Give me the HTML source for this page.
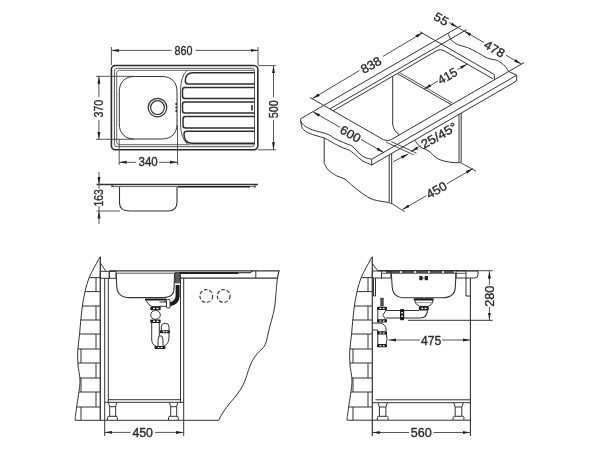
<!DOCTYPE html>
<html><head><meta charset="utf-8">
<style>
html,body{margin:0;padding:0;background:#fff;width:600px;height:450px;overflow:hidden}
svg{display:block;will-change:transform}
text{font-family:"Liberation Sans",sans-serif;fill:#2b2b2b;stroke:#2b2b2b;stroke-width:0.35}
</style></head><body>
<svg width="600" height="450" viewBox="0 0 600 450">
<defs>
<marker id="ah" viewBox="0 0 10 10" refX="10" refY="5" markerWidth="7.5" markerHeight="7.5" orient="auto-start-reverse" markerUnits="userSpaceOnUse">
<path d="M0,3 L10,5 L0,7 z" fill="#222"/>
</marker>
</defs>
<g fill="none" stroke="#333" stroke-width="1">

<!-- ============ TOP VIEW ============ -->
<g id="top">
<!-- outer -->
<rect x="111.4" y="65.5" width="146.4" height="84.3" rx="4" stroke-width="1.6" stroke="#2a2a2a"/>
<!-- inner 1 -->
<rect x="114.4" y="68.3" width="140.1" height="78.4" rx="3" stroke-width="1" stroke="#555"/>
<!-- inner 2 (left part) -->
<path d="M187.2,70.3 H119.5 Q116.7,70.3 116.7,73 V142 Q116.7,144.7 119.5,144.7 H188" stroke="#666"/>
<line x1="188" y1="144.7" x2="254.5" y2="144.7" stroke="#888"/>
<line x1="187.2" y1="70.3" x2="254.5" y2="70.3" stroke="#666"/>
<!-- drainboard boundary -->
<path d="M187.2,70.3 Q180.5,76 180.5,92 V124 Q180.5,138 188,144.7" stroke="#555"/>
<!-- bowl -->
<path d="M134.3,76.5 H162.0 C171.3,76.5 177.0,82.2 177.0,91.5 V124.0 C177.0,133.3 171.3,139.0 162.0,139.0 H134.3 C125.0,139.0 119.3,133.3 119.3,124.0 V91.5 C119.3,82.2 125.0,76.5 134.3,76.5 Z" stroke="#333"/>
<!-- drain -->
<circle cx="157.5" cy="107.6" r="9.3" stroke="#333" stroke-width="1.2"/>
<circle cx="157.5" cy="107.6" r="6.9" stroke="#333" stroke-width="1.2"/>
<!-- overflow slots -->
<path d="M176.2,103 V105 M176.2,106.5 V108.5 M176.2,110 V112" stroke="#222" stroke-width="1.4"/>
<!-- grooves -->
<g stroke="#2e2e2e" stroke-width="1.5">
<path d="M254.5,72.8 H193 Q185.3,72.8 185.3,81 Q185.3,83.9 188,83.9 H254.5"/>
<path d="M254.5,87.5 H185 Q182.5,87.5 182.5,90 V96 Q182.5,98.5 185,98.5 H254.5"/>
<path d="M254.5,102 H185 Q182.5,102 182.5,104.5 V110.5 Q182.5,113 185,113 H254.5"/>
<path d="M254.5,116.5 H185.5 Q183,116.5 183,119 V125.5 Q183,128 185.5,128 H254.5"/>
<path d="M254.5,131.3 H186.5 Q184,131.3 184,134 Q184,143.3 192,143.3 H254.5"/>
</g>
<!-- tap mark -->
<line x1="252" y1="105" x2="252" y2="110.5" stroke="#222" stroke-width="1.5"/>

<!-- dims -->
<g stroke="#444" stroke-width="0.9">
<line x1="111.4" y1="47" x2="111.4" y2="65"/>
<line x1="258" y1="47" x2="258" y2="65"/>
<line x1="111.4" y1="50.4" x2="171.5" y2="50.4" marker-start="url(#ah)"/>
<line x1="195.5" y1="50.4" x2="258" y2="50.4" marker-end="url(#ah)"/>
<!-- 500 -->
<line x1="258" y1="65.6" x2="276" y2="65.6"/>
<line x1="258" y1="149.8" x2="276" y2="149.8"/>
<line x1="273.5" y1="65.6" x2="273.5" y2="97" marker-start="url(#ah)"/>
<line x1="273.5" y1="120" x2="273.5" y2="149.8" marker-end="url(#ah)"/>
<!-- 370 -->
<line x1="96" y1="76.3" x2="134" y2="76.3"/>
<line x1="96" y1="139.3" x2="134" y2="139.3"/>
<line x1="98.9" y1="76.3" x2="98.9" y2="97" marker-start="url(#ah)"/>
<line x1="98.9" y1="120" x2="98.9" y2="139.3" marker-end="url(#ah)"/>
<!-- 340 -->
<line x1="119.2" y1="139" x2="119.2" y2="165"/>
<line x1="177.5" y1="125" x2="177.5" y2="165"/>
<line x1="119.2" y1="162.3" x2="136" y2="162.3" marker-start="url(#ah)"/>
<line x1="159" y1="162.3" x2="177.5" y2="162.3" marker-end="url(#ah)"/>
</g>
</g>

<!-- ============ SIDE VIEW ============ -->
<g id="side">
<line x1="96.5" y1="184.5" x2="258" y2="184.5" stroke="#333" stroke-width="1.3"/>
<line x1="111" y1="186.6" x2="255" y2="186.6" stroke="#666"/>
<line x1="178" y1="186.8" x2="250" y2="186.8" stroke="#222" stroke-width="1.4"/>
<path d="M111,184.5 L114,187" stroke="#333"/>
<path d="M255,185 V188" stroke="#333"/>
<path d="M119.5,187 V203 Q119.5,211 130,211 H168 Q177,211 177,202 V187" stroke="#333" stroke-width="1.1"/>
<line x1="96.5" y1="211" x2="120" y2="211" stroke="#444" stroke-width="0.9"/>
<line x1="99" y1="172" x2="99" y2="184.5" stroke="#444" stroke-width="0.9" marker-end="url(#ah)"/>
<line x1="99" y1="224" x2="99" y2="211" stroke="#444" stroke-width="0.9" marker-end="url(#ah)"/>
<line x1="99" y1="184.5" x2="99" y2="189" stroke="#444" stroke-width="0.9"/>
<line x1="99" y1="206" x2="99" y2="211" stroke="#444" stroke-width="0.9"/>
</g>

</g>


<!-- ============ BOTTOM LEFT VIEW ============ -->
<g id="bl" fill="none" stroke="#333" stroke-width="1">
<path d="M100.3,256.7 C99.4,258.2 96.9,262.4 95.0,266.0 C93.1,269.6 90.7,273.7 89.0,278.0 C87.3,282.3 86.1,286.9 85.0,291.6 C83.9,296.3 83.1,301.3 82.4,306.0 C81.7,310.7 81.3,315.3 80.8,320.0 C80.3,324.7 80.1,329.0 79.6,334.0 C79.1,339.0 78.1,344.8 77.8,350.0 C77.5,355.2 77.6,360.0 78.0,365.0 C78.4,370.0 79.9,375.0 80.0,380.0 C80.1,385.0 79.1,390.3 78.5,395.0 C77.9,399.7 77.1,403.8 76.5,408.0 C75.9,412.2 75.2,418.0 75.0,420.0"/>
<path d="M89.2,277.6H100.3M85.0,291.6H100.3M82.4,306.0H100.3M80.8,320.0H100.3M79.6,334.0H100.3M77.9,349.0H100.3M78.0,363.0H100.3M79.7,378.0H100.3M78.8,392.0H100.3M76.7,407.0H100.3"/>
<path d="M96.0,277.6V291.6M96.0,306.0V320.0M96.0,334.0V349.0M81.0,349.0V363.0M96.0,363.0V378.0M81.0,378.0V392.0M96.0,392.0V407.0M81.0,407.0V420.0"/>
<line x1="100.3" y1="256.7" x2="100.3" y2="420" stroke-width="1.3"/>
<path d="M100.3,263 L106,271.3"/>
<rect x="100.3" y="271.3" width="9" height="7"/>
<rect x="109.3" y="271.3" width="6.8" height="7"/>
<!-- cabinet -->
<path d="M104.7,278.3 V436 M108.3,278.3 V402.3" />
<path d="M180.5,273 V402.3 M183.7,278.1 V436"/>
<path d="M108.3,399.7 H180.5 M104.7,402.3 H183.5"/>
<!-- legs -->
<path d="M108.3,402.3 L109.7,406.7 H115.7 L116.7,402.3 M109.7,406.7 V416.3 M115.7,406.7 V416.3 M107.5,420 V417.5 Q107.5,416.3 109,416.3 H116 Q117.3,416.3 117.3,417.5 V420"/>
<path d="M169.3,402.3 L170.7,406.7 H176.7 L177.7,402.3 M170.7,406.7 V416.3 M176.7,406.7 V416.3 M168.5,420 V417.5 Q168.5,416.3 170,416.3 H177 Q178.3,416.3 178.3,417.5 V420"/>
<line x1="75" y1="420.3" x2="218.7" y2="420.3"/>
<!-- countertop -->
<path d="M109.3,270.9 H279 L277.4,278.1 H180.5" stroke-width="1.2"/>
<path d="M116,273.2 H175" stroke="#555"/>

<path d="M179.3,273 H238.7" stroke="#222" stroke-width="2"/><path d="M238.7,272.6 H250 L253,271" stroke="#444" stroke-width="1.2"/>
<path d="M255.8,270.8 V278.2"/>
<path d="M277.4,278.2 C276.6,285 275.8,297 274.7,307 C273.5,315 269.8,325 268,334 C266.5,341 266,345 262,349 C258,352 253,358 250,366 C247.5,372 246,379 244,383 C241,390 236,396 230,403 C225,409 221,415 218.7,420.3"/>
<!-- bowl -->
<path d="M116.1,273.2 L116.8,287 Q117.5,297.6 130,297.6 H164 Q174,297 174,289 L174.6,273.2" stroke-width="1.1"/>
<!-- overflow pipe -->
<rect x="175.2" y="272.5" width="4.6" height="10.3" fill="#5a5a5a" stroke="#333" stroke-width="0.8"/>
<path d="M177.6,285 V296 Q177.6,303 169,304.5" stroke="#1a1a1a" stroke-width="4"/>
<path d="M175.8,283 H179.5" stroke="#888" stroke-width="0.8"/>
<!-- drain -->
<rect x="145" y="298.6" width="21.7" height="1.9" fill="#1a1a1a" stroke="none"/>
<path d="M146,300.3 Q148.5,305.5 152,306.6 H160 Q163.5,305.5 165.5,300.3"/>
<path d="M159.5,302 H167 V306.3 H158.8" fill="#fff"/>
<rect x="166.5" y="299.5" width="3.5" height="8.5" rx="1" fill="#fff"/>
<g fill="#1a1a1a" stroke="none">
<rect x="150.3" y="306.7" width="10.4" height="3.6" rx="1"/>
<rect x="150.3" y="319.5" width="10.4" height="3.5" rx="1"/>
<rect x="159.7" y="330.3" width="10.3" height="2.9" rx="1"/>
<rect x="154.5" y="346" width="11" height="3" rx="1.2"/>
</g>
<g fill="#fff" stroke="none">
<rect x="153" y="307.8" width="2" height="1.4"/><rect x="156.5" y="307.8" width="2" height="1.4"/>
<rect x="153" y="320.6" width="2" height="1.4"/><rect x="156.5" y="320.6" width="2" height="1.4"/>
<rect x="162.8" y="331.1" width="1.8" height="1.2"/><rect x="165.6" y="331.1" width="1.8" height="1.2"/>
<rect x="157.7" y="346.9" width="1.8" height="1.2"/><rect x="160.7" y="346.9" width="1.8" height="1.2"/>
</g>
<ellipse cx="155.5" cy="314.9" rx="4.8" ry="4.4"/>
<path d="M151.7,323 V339 Q151.7,345 156,346 M159.3,323 V336"/>
<path d="M161.3,330.3 V327 A3.85,3.85 0 0 1 169,327 V337 Q169,344 164,346"/>
<path d="M158,340 L159,336 H162 L163,340 V346 M158,340 V346"/>
<!-- dashed holes -->
<circle cx="206.3" cy="296" r="6.4" stroke-dasharray="3.6,1.8" stroke-width="1.1"/>
<circle cx="223.7" cy="296" r="6.4" stroke-dasharray="3.6,1.8" stroke-width="1.1"/>
<!-- 450 dim -->
<line x1="104.7" y1="432.4" x2="130.5" y2="432.4" stroke="#444" stroke-width="0.9" marker-start="url(#ah)"/>
<line x1="155" y1="432.4" x2="183.5" y2="432.4" stroke="#444" stroke-width="0.9" marker-end="url(#ah)"/>
</g>

<!-- ============ BOTTOM RIGHT VIEW ============ -->
<g id="br" fill="none" stroke="#333" stroke-width="1">
<path d="M372.3,256.7 C371.4,258.2 368.9,262.4 367.0,266.0 C365.1,269.6 362.7,273.7 361.0,278.0 C359.3,282.3 358.1,286.9 357.0,291.6 C355.9,296.3 355.1,301.3 354.4,306.0 C353.7,310.7 353.3,315.3 352.8,320.0 C352.3,324.7 352.1,329.0 351.6,334.0 C351.1,339.0 350.1,344.8 349.8,350.0 C349.5,355.2 349.6,360.0 350.0,365.0 C350.4,370.0 351.9,375.0 352.0,380.0 C352.1,385.0 351.1,390.3 350.5,395.0 C349.9,399.7 349.1,403.8 348.5,408.0 C347.9,412.2 347.2,418.0 347.0,420.0"/>
<path d="M361.2,277.6H372.3M357.0,291.6H372.3M354.4,306.0H372.3M352.8,320.0H372.3M351.6,334.0H372.3M349.9,349.0H372.3M350.0,363.0H372.3M351.7,378.0H372.3M350.8,392.0H372.3M348.7,407.0H372.3"/>
<path d="M368.0,277.6V291.6M368.0,306.0V320.0M368.0,334.0V349.0M353.0,349.0V363.0M368.0,363.0V378.0M353.0,378.0V392.0M368.0,392.0V407.0M353.0,407.0V420.0"/>
<line x1="372.3" y1="256.7" x2="372.3" y2="436" stroke-width="1.2"/>
<path d="M372.3,263.5 L378,271"/>
<rect x="372.3" y="271" width="9.2" height="7"/>
<rect x="381.5" y="271" width="9.5" height="7"/>
<path d="M373.5,278 V296 H375.5 V278"/>
<path d="M378,270.7 H466" stroke-width="1.2"/>
<path d="M381.5,273.3 H466" stroke="#555"/>
<path d="M386,272 H400 M402,272 H414 M416,272 H428 M430,272 H442 M444,272 H454" stroke="#222" stroke-width="1.4"/>
<!-- bowl -->
<path d="M391.3,273.3 L392.2,287 Q393,297.8 405,297.8 H442 Q455,297.8 455.3,287 L456,273.3" stroke-width="1.1"/>
<rect x="456" y="271" width="10" height="7"/>
<path d="M466,271 H478 V275 Q478,278 475,278 H466"/>
<path d="M466,278 V296 H470"/>
<line x1="470.4" y1="278" x2="470.4" y2="436" stroke-width="1.1"/>
<line x1="466" y1="270.7" x2="492.7" y2="270.7" stroke-width="0.9"/>
<!-- label -->
<g fill="#222" stroke="none"><rect x="419.3" y="276" width="3.2" height="4.2"/><rect x="424.8" y="276" width="3.2" height="4.2"/><rect x="422.5" y="277.7" width="2.3" height="0.8"/></g>
<!-- drain -->
<path d="M414.5,300 Q415.5,305 419.5,306.3 H428.5 Q432.5,305 433.2,300" fill="#fff"/><path d="M416.5,302.6 H431" stroke="#777" stroke-width="0.8"/>
<rect x="413.7" y="298.2" width="20" height="2.2" rx="1" fill="#1a1a1a" stroke="none"/>
<rect x="418.8" y="306.3" width="10" height="4.1" rx="1.5" fill="#1a1a1a" stroke="none"/><rect x="421.3" y="307.8" width="2" height="1.3" fill="#fff" stroke="none"/><rect x="424.6" y="307.8" width="2" height="1.3" fill="#fff" stroke="none"/>
<!-- horizontal pipe -->
<path d="M386,310.5 H419 M386,318 H420 Q427,318 427.5,310.4" stroke-width="1.1"/>

<rect x="400" y="309" width="4.2" height="11.2" rx="1.2" fill="#1a1a1a" stroke="none"/>
<rect x="401.3" y="312" width="1.6" height="1.5" fill="#fff" stroke="none"/><rect x="401.3" y="315.5" width="1.6" height="1.5" fill="#fff" stroke="none"/>
<line x1="408" y1="320.3" x2="492.7" y2="320.3" stroke-width="1"/>
<!-- trap vertical -->
<path d="M377.8,310 V322 M377.8,330 V344 M386.2,310 L382.8,315.3 L386.2,320 M386.2,333.5 Q388,339 386.2,344"/>
<path d="M380.3,297.8 H383.7 V306.3 H380.3 Z" fill="#3a3a3a" stroke="none"/><path d="M380.3,300 H383.7 M380.3,302 H383.7 M380.3,304 H383.7" stroke="#999" stroke-width="0.6"/>

<g fill="#1a1a1a" stroke="none">
<rect x="377" y="306.7" width="10" height="3.3" rx="1"/>
<rect x="377" y="319.3" width="10" height="3.3" rx="1"/>
<rect x="377" y="331.3" width="10" height="3.3" rx="1"/>
<rect x="377" y="344" width="10" height="3.3" rx="1"/>
</g>
<g fill="#fff" stroke="none">
<rect x="379.5" y="307.8" width="1.8" height="1.2"/><rect x="382.8" y="307.8" width="1.8" height="1.2"/>
<rect x="379.5" y="320.4" width="1.8" height="1.2"/><rect x="382.8" y="320.4" width="1.8" height="1.2"/>
<rect x="379.5" y="332.4" width="1.8" height="1.2"/><rect x="382.8" y="332.4" width="1.8" height="1.2"/>
<rect x="379.5" y="345.1" width="1.8" height="1.2"/><rect x="382.8" y="345.1" width="1.8" height="1.2"/>
</g>
<path d="M372.3,323 H379.5 Q386.2,323.5 386.2,331 M372.3,330 H377.8"/>
<!-- 475 dim -->
<line x1="420" y1="340" x2="388.5" y2="340" stroke="#444" stroke-width="0.9" marker-end="url(#ah)"/>
<line x1="442" y1="340" x2="470.4" y2="340" stroke="#444" stroke-width="0.9" marker-end="url(#ah)"/>
<!-- 280 dim -->
<line x1="489.4" y1="285" x2="489.4" y2="271" stroke="#444" stroke-width="0.9" marker-end="url(#ah)"/>
<line x1="489.4" y1="307" x2="489.4" y2="320" stroke="#444" stroke-width="0.9" marker-end="url(#ah)"/>
<!-- cabinet bottom & legs -->
<path d="M375.5,399.8 H470.4 M372.3,402.7 H470.4"/>
<path d="M378,402.7 L379.4,407 H385.9 L387.3,402.7 M379.4,407 V416.3 M385.9,407 V416.3 M377.3,420 V417.5 Q377.3,416.3 378.8,416.3 H386.5 Q388,416.3 388,417.5 V420"/>
<path d="M453.8,402.7 L455.2,407 H461.8 L463.2,402.7 M455.2,407 V416.3 M461.8,407 V416.3 M453.1,420 V417.5 Q453.1,416.3 454.6,416.3 H462.4 Q463.9,416.3 463.9,417.5 V420"/>
<line x1="347" y1="420.2" x2="470.4" y2="420.2"/>
<!-- 560 dim -->
<line x1="372.3" y1="432.5" x2="409" y2="432.5" stroke="#444" stroke-width="0.9" marker-start="url(#ah)"/>
<line x1="433.5" y1="432.5" x2="470.4" y2="432.5" stroke="#444" stroke-width="0.9" marker-end="url(#ah)"/>
</g>




<!-- ISO START -->
<g id="iso" fill="none" stroke="#333" stroke-width="1">
<line x1="300.6" y1="118.8" x2="461.0" y2="25.7" />
<line x1="329.9" y1="108.9" x2="466.7" y2="29.6" />
<path d="M333.1,110.8 L436.4,50.9 Q440.4,48.6 443.9,50.6 L493.0,78.9" />
<path d="M310,97.5 L383.2,139.6 Q387.2,141.9 391.2,139.6 L508.7,71.5 L524.2,62.5" />
<path d="M420,31.8 L494.4,74.6 V79.5" />
<line x1="397.3" y1="73.6" x2="451.4" y2="104.7" />
<line x1="398.5" y1="72.0" x2="452.6" y2="103.1" stroke="#555"/>
<line x1="371.7" y1="159.3" x2="516.7" y2="75.2" />
<line x1="371.7" y1="165.0" x2="516.7" y2="80.9" />
<line x1="371.7" y1="159.3" x2="371.7" y2="165.0" />
<line x1="516.7" y1="75.2" x2="516.7" y2="80.9" />
<line x1="508.7" y1="71.5" x2="516.7" y2="75.2" />
<path d="M300.6,118.8 C300.7,119.3 300.4,120.7 301.2,122.0 C302.0,123.3 303.3,125.0 305.2,126.3 C307.1,127.6 310.1,129.0 312.7,130.0 C315.3,131.0 318.2,131.4 321.0,132.2 C323.8,133.0 326.8,133.8 329.3,135.0 C331.8,136.2 333.2,137.8 336.0,139.2 C338.8,140.6 343.3,142.4 346.0,143.5 C348.7,144.6 350.3,144.9 352.0,146.0 C353.7,147.1 354.7,148.7 356.0,150.0 C357.3,151.3 358.5,152.8 360.0,154.0 C361.5,155.2 363.1,156.6 365.0,157.5 C366.9,158.4 370.6,159.0 371.7,159.3" />
<path d="M300.6,121.5 C300.8,122.1 301.1,123.8 301.5,125.0 C301.9,126.2 301.5,127.4 302.7,128.8 C303.9,130.1 306.1,131.8 308.5,133.0 C310.9,134.2 314.2,135.0 316.8,135.8 C319.4,136.6 321.9,137.0 324.3,138.0 C326.7,139.0 328.8,140.5 331.0,141.7 C333.2,142.9 335.5,144.3 337.7,145.4 C339.9,146.5 342.1,147.5 344.0,148.3 C345.9,149.1 347.2,149.0 349.0,150.0 C350.8,151.0 352.8,152.8 355.0,154.5 C357.2,156.2 359.2,158.7 362.0,160.5 C364.8,162.3 370.1,164.3 371.7,165.0" />
<path d="M448.1,33.2 C448.6,34.3 449.5,38.0 451.2,40.0 C453.0,42.0 456.0,43.8 458.8,45.0 C461.5,46.2 464.4,46.2 467.5,47.5 C470.6,48.8 474.2,50.7 477.5,52.5 C480.8,54.3 484.2,56.8 487.5,58.1 C490.8,59.5 494.6,59.2 497.5,60.6 C500.4,62.0 503.1,64.4 505.0,66.2 C506.9,68.1 508.1,70.6 508.7,71.5" />
<path d="M392.7,76.3 V124 Q393.5,131 399.4,134.8" />
<path d="M324.2,137.8 V163.3" />
<path d="M324.2,163.3 C324.9,164.4 326.2,167.9 328.3,170.0 C330.4,172.1 333.9,174.3 336.7,175.8 C339.5,177.3 342.5,177.7 345.0,179.2 C347.5,180.7 349.2,182.9 351.7,185.0 C354.2,187.1 356.9,189.5 360.0,191.7 C363.1,193.9 366.9,196.8 370.0,198.3 C373.1,199.8 375.2,200.1 378.3,200.8 C381.4,201.5 386.1,202.0 388.3,202.5 C390.5,203.0 391.1,203.8 391.7,204.0" />
<line x1="389.2" y1="154.9" x2="389.2" y2="202.5" />
<line x1="391.7" y1="153.4" x2="391.7" y2="204.0" />
<line x1="459.0" y1="114.4" x2="459.0" y2="162.5" />
<line x1="461.2" y1="113.1" x2="461.2" y2="162.5" />
<path d="M414.7,140.1 C415.6,141.2 417.6,144.8 420.0,146.7 C422.4,148.6 426.2,149.3 429.0,151.2 C431.8,153.1 434.0,156.4 436.5,158.0 C439.0,159.6 441.2,160.2 444.0,161.0 C446.8,161.8 450.1,162.2 453.0,162.5 C455.9,162.8 459.8,162.7 461.2,162.7" />
<g stroke="#3a3a3a" stroke-width="0.9">
<line x1="312.6" y1="98.5" x2="359.5" y2="70.5" marker-start="url(#ah)"/>
<line x1="383" y1="56.4" x2="422.5" y2="32.8" marker-end="url(#ah)"/>
<line x1="448.9" y1="22.4" x2="457.9" y2="27.5" marker-end="url(#ah)"/>
<line x1="457.9" y1="27.5" x2="464.1" y2="31.1"/>
<line x1="464.1" y1="31.1" x2="484.0" y2="42.5" marker-start="url(#ah)"/>
<line x1="506.0" y1="55.2" x2="521.4" y2="64.1" marker-end="url(#ah)"/>
<line x1="424.2" y1="89.1" x2="438" y2="81.0" marker-start="url(#ah)"/>
<line x1="457.5" y1="69.7" x2="467.3" y2="64.1" marker-end="url(#ah)"/>
<line x1="312.8" y1="111.7" x2="340" y2="127.3" marker-start="url(#ah)"/>
<line x1="361" y1="139.4" x2="383.6" y2="152.4" marker-end="url(#ah)"/>
<line x1="386" y1="142.1" x2="413.8" y2="154.9"/>
<line x1="391.2" y1="141.6" x2="416.5" y2="153.2"/>
<line x1="393.5" y1="161.6" x2="408.3" y2="153.9" marker-end="url(#ah)"/>
<line x1="421" y1="145.6" x2="411.2" y2="151.6" marker-end="url(#ah)"/>
<line x1="391.7" y1="203.5" x2="404.7" y2="211.7"/>
<line x1="461.2" y1="163" x2="476" y2="171.2"/>
<line x1="402.5" y1="209.5" x2="426.5" y2="195.6" marker-start="url(#ah)"/>
<line x1="446.7" y1="183.9" x2="473" y2="168.6" marker-end="url(#ah)"/>
</g>
</g>
<g font-size="12.4">
<text transform="translate(371,65) rotate(-30)" text-anchor="middle" y="4.3" textLength="21.5" lengthAdjust="spacingAndGlyphs">838</text>
<text transform="translate(350.5,134) rotate(30)" text-anchor="middle" y="4.3" textLength="21.5" lengthAdjust="spacingAndGlyphs">600</text>
<text transform="translate(447.5,76) rotate(-30)" text-anchor="middle" y="4.3" textLength="20.5" lengthAdjust="spacingAndGlyphs">415</text>
<text transform="translate(494.5,49) rotate(30)" text-anchor="middle" y="4.3" textLength="21.5" lengthAdjust="spacingAndGlyphs">478</text>
<text transform="translate(441.3,19) rotate(30)" text-anchor="middle" y="4.3" textLength="14.5" lengthAdjust="spacingAndGlyphs">55</text>
<text transform="translate(439,135.5) rotate(-30)" text-anchor="middle" y="4.3" textLength="39.5" lengthAdjust="spacingAndGlyphs">25/45°</text>
<text transform="translate(436.5,190) rotate(-30)" text-anchor="middle" y="4.3" textLength="21.5" lengthAdjust="spacingAndGlyphs">450</text>
</g>
<!-- ISO END -->
<!-- texts -->
<g font-size="12">
<text x="174.6" y="55" textLength="18" lengthAdjust="spacingAndGlyphs">860</text>
<text x="138.5" y="166.3" textLength="19.3" lengthAdjust="spacingAndGlyphs">340</text>
<text transform="translate(277.8,118.2) rotate(-90)" x="0" y="0" textLength="18" lengthAdjust="spacingAndGlyphs">500</text>
<text transform="translate(103.3,117.5) rotate(-90)" x="0" y="0" textLength="17.7" lengthAdjust="spacingAndGlyphs">370</text>
<text transform="translate(103.2,206.6) rotate(-90)" x="0" y="0" textLength="17.3" lengthAdjust="spacingAndGlyphs">163</text>
<text x="132.4" y="437" textLength="20.6" lengthAdjust="spacingAndGlyphs">450</text>
<text x="410.7" y="437" textLength="21" lengthAdjust="spacingAndGlyphs">560</text>
<text x="421" y="344.7" textLength="20.3" lengthAdjust="spacingAndGlyphs">475</text>
<text transform="translate(493.8,306.7) rotate(-90)" x="0" y="0" textLength="21" lengthAdjust="spacingAndGlyphs">280</text>
</g>
</svg>
</body></html>
